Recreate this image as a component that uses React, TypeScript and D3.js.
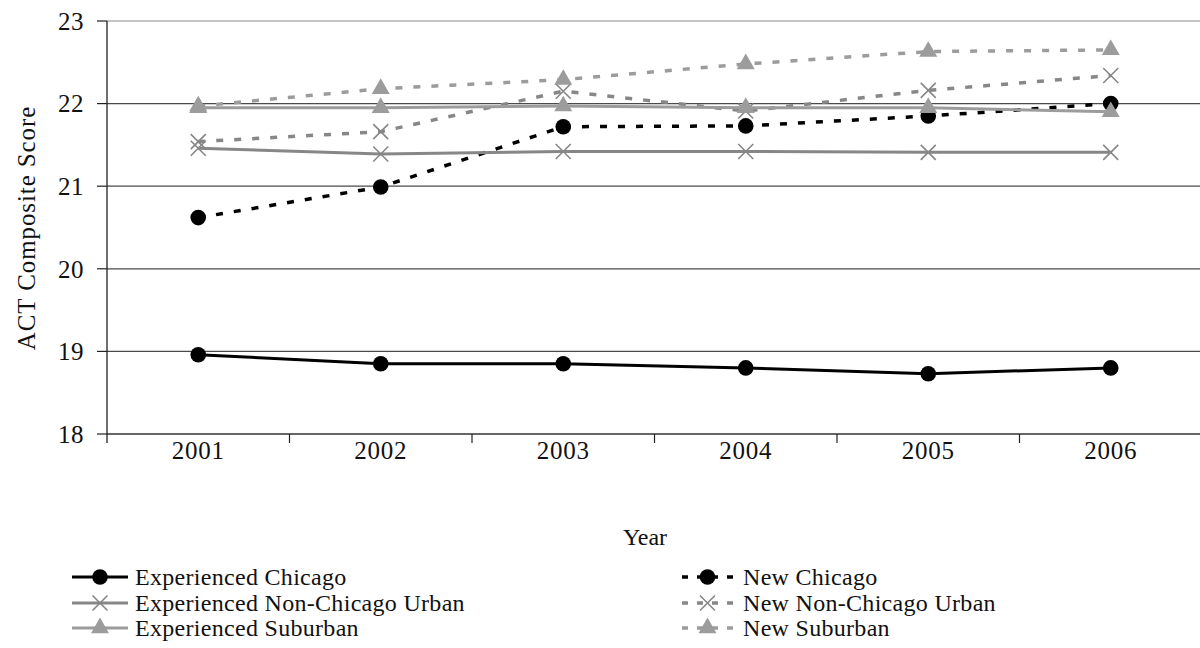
import React from "react";
import * as d3 from "d3";

const years = ["2001", "2002", "2003", "2004", "2005", "2006"];
const yTicks = [18, 19, 20, 21, 22, 23];

const expChicago = [18.96, 18.85, 18.85, 18.8, 18.73, 18.8];
const newChicago = [20.62, 20.99, 21.72, 21.73, 21.85, 22.0];
const expNonChicagoUrban = [21.46, 21.39, 21.42, 21.42, 21.41, 21.41];
const newNonChicagoUrban = [21.54, 21.66, 22.15, 21.91, 22.16, 22.34];
const expSuburban = [21.95, 21.95, 21.97, 21.95, 21.95, 21.9];
const newSuburban = [21.97, 22.18, 22.29, 22.48, 22.63, 22.65];

const seriesNames = [
  "Experienced Chicago",
  "New Chicago",
  "Experienced Non-Chicago Urban",
  "New Non-Chicago Urban",
  "Experienced Suburban",
  "New Suburban",
];

type Marker = "circle" | "x" | "triangle";
interface Series {
  name: string;
  values: number[];
  color: string;
  dashed: boolean;
  marker: Marker;
}

const series: Series[] = [
  { name: seriesNames[0], values: expChicago, color: "#000000", dashed: false, marker: "circle" },
  { name: seriesNames[1], values: newChicago, color: "#000000", dashed: true, marker: "circle" },
  { name: seriesNames[2], values: expNonChicagoUrban, color: "#878787", dashed: false, marker: "x" },
  { name: seriesNames[3], values: newNonChicagoUrban, color: "#878787", dashed: true, marker: "x" },
  { name: seriesNames[4], values: expSuburban, color: "#9c9c9c", dashed: false, marker: "triangle" },
  { name: seriesNames[5], values: newSuburban, color: "#9c9c9c", dashed: true, marker: "triangle" },
];

const FONT = "'Liberation Serif', 'Times New Roman', serif";

const left = 107;
const right = 1202;
const top = 21;
const bottom = 434;

const x = d3.scaleBand<string>().domain(years).range([left, right]);
const y = d3.scaleLinear().domain([18, 23]).range([bottom, top]);

function MarkerShape({ kind, cx, cy, color }: { kind: Marker; cx: number; cy: number; color: string }) {
  if (kind === "circle") {
    return <circle cx={cx} cy={cy} r={7.8} fill={color} />;
  }
  if (kind === "triangle") {
    const sym = d3.symbol().type(d3.symbolTriangle).size(140)();
    return <path d={sym || ""} transform={`translate(${cx},${cy})`} fill={color} />;
  }
  const s = 7.5;
  return (
    <path
      d={`M${cx - s},${cy - s}L${cx + s},${cy + s}M${cx - s},${cy + s}L${cx + s},${cy - s}`}
      stroke={color}
      strokeWidth={1.6}
      fill="none"
    />
  );
}

export default function App() {
  const line = d3
    .line<number>()
    .x((_, i) => (x(years[i]) as number) + x.bandwidth() / 2)
    .y((d) => y(d));

  const legendRows = [577, 603, 628];
  const legendCols = [
    { x1: 72, x2: 128, tx: 135 },
    { x1: 682, x2: 733, tx: 743 },
  ];

  return (
    <svg
      width={1200}
      height={648}
      style={{ position: "absolute", left: 0, top: 0, background: "#fff" }}
      fontFamily={FONT}
    >
      <rect x={0} y={0} width={1200} height={648} fill="#ffffff" />
      {yTicks.filter((t) => t > 18).map((t) => (
        <line key={t} x1={left} x2={1200} y1={y(t)} y2={y(t)} stroke={t === 23 ? "#8a8a8a" : "#4a4a4a"} strokeWidth={1.2} />
      ))}
      <line x1={left} x2={1200} y1={bottom} y2={bottom} stroke="#333" strokeWidth={1.3} />
      <line x1={left} x2={left} y1={top} y2={bottom + 9} stroke="#222" strokeWidth={1.3} />
      {yTicks.map((t) => (
        <g key={t}>
          <line x1={left - 10} x2={left} y1={y(t)} y2={y(t)} stroke="#222" strokeWidth={1.2} />
          <text x={84} y={y(t)} dy="0.35em" textAnchor="end" fontSize={25} letterSpacing={0.5} fill="#111">
            {t}
          </text>
        </g>
      ))}
      {years.map((yr) => (
        <g key={yr}>
          <line
            x1={(x(yr) as number) + x.bandwidth()}
            x2={(x(yr) as number) + x.bandwidth()}
            y1={bottom}
            y2={bottom + 9}
            stroke="#222"
            strokeWidth={1.2}
          />
          <text
            x={(x(yr) as number) + x.bandwidth() / 2}
            y={459}
            textAnchor="middle"
            fontSize={25}
            letterSpacing={0.8}
            fill="#111"
          >
            {yr}
          </text>
        </g>
      ))}
      <text x={645} y={545} textAnchor="middle" fontSize={24} fill="#111">
        Year
      </text>
      <text
        transform={`translate(35,228) rotate(-90)`}
        textAnchor="middle"
        fontSize={25}
        letterSpacing={0.9}
        fill="#111"
      >
        ACT Composite Score
      </text>

      {series.map((s) => (
        <g key={s.name}>
          <path
            d={line(s.values) || ""}
            fill="none"
            stroke={s.color}
            strokeWidth={s.dashed ? 3.5 : 3}
            strokeDasharray={s.dashed ? "7,11" : undefined}
          />
          {s.values.map((v, i) => (
            <MarkerShape
              key={i}
              kind={s.marker}
              cx={(x(years[i]) as number) + x.bandwidth() / 2}
              cy={y(v)}
              color={s.color}
            />
          ))}
        </g>
      ))}

      {series.map((s, i) => {
        const col = legendCols[i % 2];
        const ry = legendRows[Math.floor(i / 2)];
        const mx = (col.x1 + col.x2) / 2;
        return (
          <g key={s.name}>
            <line
              x1={col.x1}
              x2={col.x2}
              y1={ry}
              y2={ry}
              stroke={s.color}
              strokeWidth={s.dashed ? 3.5 : 3}
              strokeDasharray={s.dashed ? "6,9" : undefined}
            />
            <MarkerShape kind={s.marker} cx={mx} cy={ry} color={s.color} />
            <text x={col.tx} y={ry} dy="0.35em" fontSize={24} letterSpacing={0.3} fill="#111">
              {s.name}
            </text>
          </g>
        );
      })}
    </svg>
  );
}
